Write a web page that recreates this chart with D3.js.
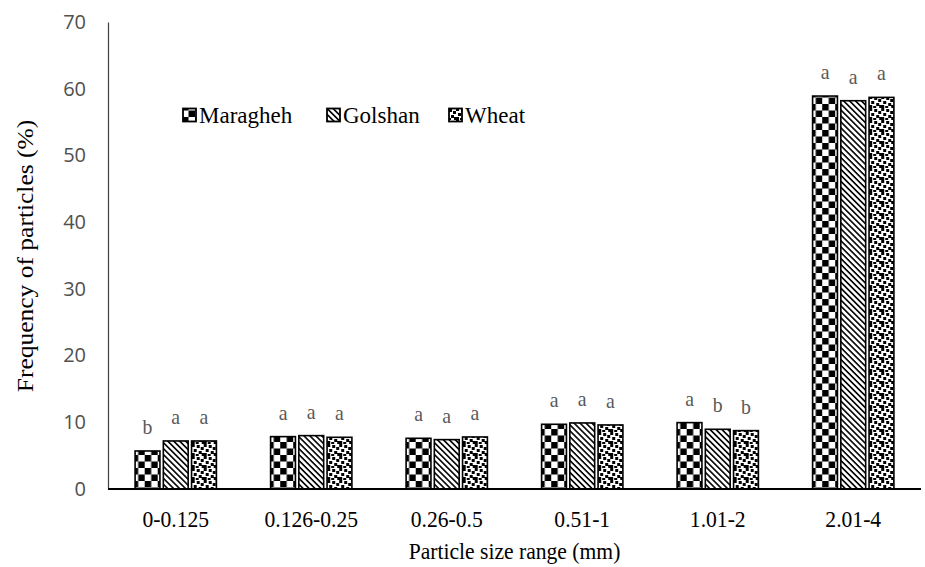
<!DOCTYPE html>
<html>
<head>
<meta charset="utf-8">
<script src="https://cdn.jsdelivr.net/npm/d3@7"></script>
<style>
  html, body { margin: 0; padding: 0; background: #fff; }
  svg { display: block; }
</style>
</head>
<body>
<svg id="chart" width="925" height="567"></svg>
<script>
// Particle size distribution by sample
const categories = ["0-0.125", "0.126-0.25", "0.26-0.5", "0.51-1", "1.01-2", "2.01-4"];
const seriesNames = ["Maragheh", "Golshan", "Wheat"];
const maragheh = [5.7, 7.85, 7.6, 9.7, 9.95, 58.9];
const golshan  = [7.2, 8.0, 7.4, 9.9, 8.95, 58.2];
const wheat    = [7.2, 7.75, 7.8, 9.6, 8.75, 58.7];
const letMaragheh = ["b", "a", "a", "a", "a", "a"];
const letGolshan  = ["a", "a", "a", "a", "b", "a"];
const letWheat    = ["a", "a", "a", "a", "b", "a"];
const yTicks = [0, 10, 20, 30, 40, 50, 60, 70];

const values = [maragheh, golshan, wheat];
const letters = [letMaragheh, letGolshan, letWheat];

const serif = "'Liberation Serif', 'Times New Roman', serif";
const squeeze = 0.9; // serif labels are set slightly condensed
const svg = d3.select("#chart");
const plotLeft = 108, plotRight = 921, plotTop = 22, plotBottom = 489;

const x = d3.scaleBand().domain(categories).range([plotLeft, plotRight])
  .paddingInner(0.35).paddingOuter(0.175);
const xs = d3.scaleBand().domain(seriesNames).range([0, x.bandwidth()]).padding(0.12);
const y = d3.scaleLinear().domain([0, 70]).range([plotBottom, plotTop]);

// Fill patterns
const defs = svg.append("defs");
const patIds = ["pat-check", "pat-diag", "pat-confetti"];

const pc = defs.append("pattern").attr("id", "pat-check")
  .attr("patternUnits", "userSpaceOnUse").attr("width", 13).attr("height", 13);
pc.append("rect").attr("width", 13).attr("height", 13).attr("fill", "#fff");
pc.append("rect").attr("width", 6.5).attr("height", 6.5).attr("fill", "#000");
pc.append("rect").attr("x", 6.5).attr("y", 6.5).attr("width", 6.5).attr("height", 6.5).attr("fill", "#000");

const pd = defs.append("pattern").attr("id", "pat-diag")
  .attr("patternUnits", "userSpaceOnUse").attr("width", 4.2).attr("height", 4.2)
  .attr("patternTransform", "rotate(45)");
pd.append("rect").attr("width", 4.2).attr("height", 4.2).attr("fill", "#fff");
pd.append("rect").attr("width", 4.2).attr("height", 1.6).attr("fill", "#000");

const pf = defs.append("pattern").attr("id", "pat-confetti")
  .attr("patternUnits", "userSpaceOnUse").attr("width", 12).attr("height", 12);
pf.append("rect").attr("width", 12).attr("height", 12).attr("fill", "#fff");
[[0, 0], [5, 1], [9, 3], [2, 5], [7, 7], [10, 9], [0, 9], [4, 10]].forEach(([a, b]) => {
  pf.append("rect").attr("x", a).attr("y", b).attr("width", 3).attr("height", 3).attr("fill", "#000");
});

// Y axis
const yAxis = svg.append("g").attr("transform", `translate(${plotLeft},0)`)
  .call(d3.axisLeft(y).tickValues(yTicks).tickSize(0).tickPadding(22));
yAxis.select(".domain").attr("stroke", "#404040").attr("stroke-width", 1.2);
yAxis.selectAll("text")
  .attr("font-family", "'Open Sans', 'Noto Sans', sans-serif")
  .attr("font-size", 20).attr("fill", "#505050");

// Bars
const groups = svg.append("g").selectAll("g")
  .data(categories).join("g")
  .attr("transform", d => `translate(${x(d)},0)`);

seriesNames.forEach((s, si) => {
  groups.append("rect")
    .attr("x", xs(s))
    .attr("width", xs.bandwidth())
    .attr("y", (d, i) => y(values[si][i]))
    .attr("height", (d, i) => y(0) - y(values[si][i]))
    .attr("fill", `url(#${patIds[si]})`)
    .attr("stroke", "#000").attr("stroke-width", 1.6);

  groups.append("text")
    .attr("transform", (d, i) =>
      `translate(${xs(s) + xs.bandwidth() / 2},${y(values[si][i]) - 17}) scale(${squeeze},1)`)
    .attr("text-anchor", "middle")
    .attr("font-family", serif)
    .attr("font-size", 22).attr("fill", "#595959")
    .text((d, i) => letters[si][i]);
});

// X axis
const xAxis = svg.append("g").attr("transform", `translate(0,${plotBottom})`)
  .call(d3.axisBottom(x).tickSize(0).tickPadding(21));
xAxis.select(".domain").attr("stroke", "#000").attr("stroke-width", 2)
  .attr("d", `M${plotLeft},0H${plotRight}`);
xAxis.selectAll("text")
  .attr("transform", `scale(${squeeze},1)`)
  .attr("font-family", serif)
  .attr("font-size", 24).attr("fill", "#000");

// Axis titles
svg.append("text")
  .attr("transform", `translate(${(plotLeft + plotRight) / 2},559) scale(${squeeze},1)`)
  .attr("text-anchor", "middle")
  .attr("font-family", serif)
  .attr("font-size", 24).attr("fill", "#000")
  .text("Particle size range (mm)");

svg.append("text")
  .attr("transform", `translate(33,256) rotate(-90) scale(1,${squeeze})`)
  .attr("text-anchor", "middle")
  .attr("font-family", serif)
  .attr("font-size", 25.5).attr("fill", "#000")
  .text("Frequency of particles (%)");

// Legend
const legendX = [183, 327, 449];
const legend = svg.append("g");
seriesNames.forEach((s, si) => {
  legend.append("rect")
    .attr("x", legendX[si]).attr("y", 108.5)
    .attr("width", 13).attr("height", 13)
    .attr("fill", `url(#${patIds[si]})`)
    .attr("stroke", "#000").attr("stroke-width", 1.8);
  legend.append("text")
    .attr("x", legendX[si] + 16).attr("y", 123)
    .attr("font-family", serif)
    .attr("font-size", 23).attr("fill", "#000")
    .text(s);
});
</script>
</body>
</html>
